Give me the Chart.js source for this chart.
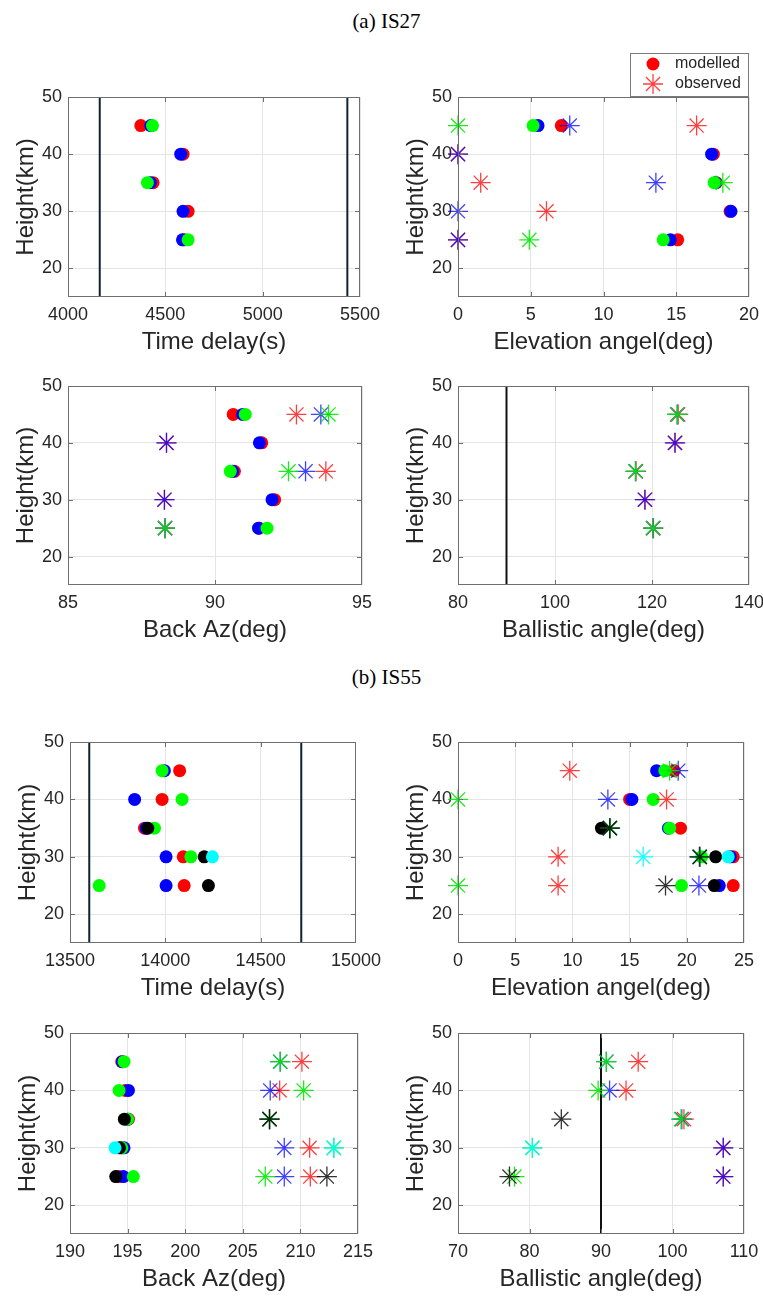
<!DOCTYPE html>
<html><head><meta charset="utf-8">
<script src="https://cdn.jsdelivr.net/npm/chart.js@4.4.1/dist/chart.umd.min.js"></script>
<style>
html,body{margin:0;padding:0;background:#fff;overflow:hidden;width:763px;height:1297px;position:relative;}
canvas{position:absolute;}
.ttl{position:absolute;width:763px;text-align:center;font-family:"Liberation Serif","Times New Roman",serif;font-size:21px;color:#000;line-height:24px;}
</style></head><body>
<div class="ttl" style="left:5px;top:9px">(a) IS27</div>
<div class="ttl" style="left:5px;top:665px">(b) IS55</div>
<script>
// ---------- shared ----------
const heights = [45, 40, 35, 30, 25];
const heightTicks = [20, 30, 40, 50];
const heightRange = [15, 50];

const is27Series = ['red', 'blue', 'green'];
const is55Series = ['red', 'blue', 'green', 'black', 'cyan'];

// ---------- tick labels ----------
const is27TimeTicks = [4000, 4500, 5000, 5500];
const is27ElevTicks = [0, 5, 10, 15, 20];
const is27BazTicks = [85, 90, 95];
const is27BallTicks = [80, 100, 120, 140];
const is55TimeTicks = [13500, 14000, 14500, 15000];
const is55ElevTicks = [0, 5, 10, 15, 20, 25];
const is55BazTicks = [190, 195, 200, 205, 210, 215];
const is55BallTicks = [70, 80, 90, 100, 110];

// ---------- reference lines ----------
const is27TimeLines = [4163, 5435];
const is55TimeLines = [13601, 14713];
const ballisticLine = [90];

// ---------- IS27 (rows: red, blue, green; columns: heights) ----------
const is27TimeModelled = [
  [4374, 4591, 4437, 4617, 4598],
  [4425, 4579, 4423, 4591, 4588],
  [4434, null, 4408, null, 4617]
];
const is27ElevModelled = [
  [7.1, 17.55, 17.75, 18.7, 15.1],
  [5.5, 17.43, 17.7, 18.76, 14.6],
  [5.16, null, 17.6, null, 14.1]
];
const is27ElevObserved = [
  [16.4, 0, 1.56, 6.08, 0],
  [7.68, 0, 13.6, 0, 0],
  [0, null, 18.2, null, 4.9]
];
const is27BazModelled = [
  [90.62, 91.59, 90.66, 92.03, 91.5],
  [90.94, 91.51, 90.6, 91.94, 91.48],
  [91.03, null, 90.52, null, 91.77]
];
const is27BazObserved = [
  [92.77, 88.35, 93.77, 88.28, 88.3],
  [93.6, 88.35, 93.08, 88.28, 88.3],
  [93.86, null, 92.5, null, 88.3]
];
const is27BallObserved = [
  [125.4, 124.8, 116.7, 118.6, 120.3],
  [125.2, 124.7, 116.6, 118.5, 120.2],
  [125.2, null, 116.6, null, 120.2]
];

// ---------- IS55 (rows: red, blue, green, black, cyan) ----------
const is55TimeModelled = [
  [14075, 13983, 13891, 14094, 14099],
  [13995, 13839, 13900, 14004, 14004],
  [13983, 14088, 13943, 14134, 13653],
  [null, null, 13908, 14204, 14226],
  [null, null, null, 14247, null]
];
const is55ElevModelled = [
  [18.9, 15.0, 19.45, 24.06, 24.06],
  [17.36, 15.2, 18.4, 23.8, 22.84],
  [18.08, 17.06, 18.5, 21.3, 19.54],
  [null, null, 12.54, 22.52, 22.4],
  [null, null, null, 23.62, null]
];
const is55ElevObserved = [
  [9.77, 18.23, 13.27, 8.75, 8.75],
  [19.25, 13.1, 13.27, 21.1, 21.06],
  [18.5, 0, 13.3, 21.14, 0],
  [null, null, 13.27, 21.14, 18.14],
  [null, null, null, 16.19, null]
];
const is55BazModelled = [
  [194.49, 194.8, 195.07, 194.45, 194.2],
  [194.55, 195.07, 195.0, 194.69, 194.63],
  [194.69, 194.26, 195.0, 194.5, 195.5],
  [null, null, 194.72, 194.3, 193.97],
  [null, null, null, 193.91, null]
];
const is55BazObserved = [
  [210.13, 208.2, 207.32, 210.8, 210.86],
  [208.25, 207.38, 207.32, 208.6, 208.6],
  [208.25, 210.28, 207.32, 212.9, 206.95],
  [null, null, 207.32, null, 212.3],
  [null, null, null, 212.9, null]
];
const is55BallObserved = [
  [95.2, 93.5, 101.6, 107.1, 107.1],
  [90.75, 91.2, 101.3, 107.1, 107.1],
  [90.75, 89.6, 101.2, 80.4, 77.9],
  [null, null, 84.45, null, 77.2],
  [null, null, null, 80.4, null]
];

// ---------- styling ----------
const FONT = '"Liberation Sans", Arial, Helvetica, sans-serif';
const TEXT = '#262626';
const COLORS = {red: '#ff0000', blue: '#0000ff', green: '#00ff00', black: '#000000', cyan: '#00ffff'};
const STAR = {red: 'rgba(255,0,0,0.75)', blue: 'rgba(0,0,255,0.75)', green: 'rgba(0,235,0,0.9)', black: 'rgba(0,0,0,0.8)', cyan: 'rgba(0,255,255,0.9)'};

function seriesData(vals) {
  const out = [];
  vals.forEach((v, i) => { if (v !== null) out.push({x: v, y: heights[i]}); });
  return out;
}

const boxPlugin = {
  id: 'matlabBox',
  afterDatasetsDraw(chart) {
    const {ctx, chartArea: a, scales: {x, y}} = chart;
    ctx.save();
    ctx.strokeStyle = '#6e6e6e';
    ctx.lineWidth = 1;
    ctx.strokeRect(a.left + 0.5, a.top + 0.5, a.right - a.left - 1, a.bottom - a.top - 1);
    const L = 5;
    ctx.beginPath();
    x.ticks.forEach(tk => {
      const px = Math.round(x.getPixelForValue(tk.value)) + 0.5;
      if (px <= a.left + 2 || px >= a.right - 2) return;
      ctx.moveTo(px, a.bottom); ctx.lineTo(px, a.bottom - L);
      ctx.moveTo(px, a.top); ctx.lineTo(px, a.top + L);
    });
    y.ticks.forEach(tk => {
      const py = Math.round(y.getPixelForValue(tk.value)) + 0.5;
      if (py <= a.top + 2 || py >= a.bottom - 2) return;
      ctx.moveTo(a.left, py); ctx.lineTo(a.left + L, py);
      ctx.moveTo(a.right, py); ctx.lineTo(a.right - L, py);
    });
    ctx.stroke();
    ctx.restore();
  }
};

const legendPlugin = {
  id: 'matlabLegend',
  afterDraw(chart) {
    const {ctx, chartArea: a} = chart;
    ctx.save();
    const x0 = a.right - 119, y0 = a.top - 44;
    ctx.fillStyle = '#fff';
    ctx.fillRect(x0, y0, 118, 43);
    ctx.strokeStyle = '#7a7a7a';
    ctx.lineWidth = 1;
    ctx.strokeRect(x0 + 0.5, y0 + 0.5, 118, 43);
    // modelled marker
    ctx.fillStyle = COLORS.red;
    ctx.beginPath();
    ctx.arc(a.right - 96, a.top - 33, 6.5, 0, Math.PI * 2);
    ctx.fill();
    // observed marker
    const cx = a.right - 96, cy = a.top - 13, r = 10, d = r * Math.SQRT1_2;
    ctx.strokeStyle = STAR.red;
    ctx.lineWidth = 1.3;
    ctx.beginPath();
    ctx.moveTo(cx - r, cy); ctx.lineTo(cx + r, cy);
    ctx.moveTo(cx, cy - r); ctx.lineTo(cx, cy + r);
    ctx.moveTo(cx - d, cy - d); ctx.lineTo(cx + d, cy + d);
    ctx.moveTo(cx - d, cy + d); ctx.lineTo(cx + d, cy - d);
    ctx.stroke();
    ctx.fillStyle = TEXT;
    ctx.font = '16px ' + FONT;
    ctx.textBaseline = 'middle';
    ctx.textAlign = 'left';
    ctx.fillText('modelled', a.right - 74, a.top - 33);
    ctx.fillText('observed', a.right - 74, a.top - 13);
    ctx.restore();
  }
};

function makeChart(cfg) {
  const [l, t, r, b] = cfg.plot;
  const topPad = cfg.topPad || 20;
  const cl = l - 68, ct = t - topPad;
  const w = Math.round(r - cl + 30), h = Math.round(b - ct + 60);
  const cv = document.createElement('canvas');
  cv.width = w; cv.height = h;
  cv.style.left = cl + 'px'; cv.style.top = ct + 'px';
  cv.style.width = w + 'px'; cv.style.height = h + 'px';
  document.body.appendChild(cv);

  const datasets = [];
  let ord = 1000;
  (cfg.lines || []).forEach(v => datasets.push({
    data: [{x: v, y: heightRange[0]}, {x: v, y: heightRange[1]}],
    showLine: true, borderColor: cfg.lineColor, borderWidth: 2,
    pointRadius: 0, order: ord--
  }));
  (cfg.modelled || []).forEach((vals, i) => {
    const c = COLORS[cfg.series[i]];
    datasets.push({
      data: seriesData(vals), showLine: false, clip: false,
      pointStyle: 'circle', pointRadius: 6.5,
      pointBackgroundColor: c, backgroundColor: c,
      pointBorderWidth: 0, borderWidth: 0, order: ord--
    });
  });
  (cfg.observed || []).forEach((vals, i) => {
    const c = STAR[cfg.series[i]];
    datasets.push({
      data: seriesData(vals), showLine: false, clip: false,
      pointStyle: 'star', pointRadius: 10,
      pointBorderColor: c, borderColor: c, pointBackgroundColor: c,
      pointBorderWidth: 1.3, order: ord--
    });
  });

  const xt = cfg.xTicks;
  new Chart(cv, {
    type: 'scatter',
    data: {datasets},
    options: {
      responsive: false, animation: false, devicePixelRatio: 1, events: [],
      layout: {padding: {left: 0, top: topPad, right: 30, bottom: 0}},
      plugins: {legend: {display: false}, tooltip: {enabled: false}},
      scales: {
        x: {
          type: 'linear', min: xt[0], max: xt[xt.length - 1],
          afterBuildTicks: s => { s.ticks = xt.map(v => ({value: v})); },
          afterFit: s => { s.height = 60; },
          grid: {color: '#e4e4e4', drawTicks: false, lineWidth: 1},
          border: {display: false},
          ticks: {padding: 7, color: TEXT, font: {family: FONT, size: 18}, maxRotation: 0, autoSkip: false, callback: v => String(v)},
          title: {display: true, text: cfg.xTitle, color: TEXT, font: {family: FONT, size: 24}, padding: {top: 0, bottom: 0}}
        },
        y: {
          type: 'linear', min: heightRange[0], max: heightRange[1],
          afterBuildTicks: s => { s.ticks = heightTicks.map(v => ({value: v})); },
          afterFit: s => { s.width = 68; },
          grid: {color: '#e4e4e4', drawTicks: false, lineWidth: 1},
          border: {display: false},
          ticks: {padding: 6, color: TEXT, font: {family: FONT, size: 18}, autoSkip: false, callback: v => String(v)},
          title: {display: true, text: 'Height(km)', color: TEXT, font: {family: FONT, size: 24}, padding: {top: 11.6, bottom: 0}}
        }
      }
    },
    plugins: cfg.legend ? [boxPlugin, legendPlugin] : [boxPlugin]
  });
}

// ---------- IS27 ----------
makeChart({plot: [68, 97, 360, 297], xTicks: is27TimeTicks, xTitle: 'Time delay(s)', series: is27Series,
  modelled: is27TimeModelled, lines: is27TimeLines, lineColor: '#0e2233'});
makeChart({plot: [458, 97, 749, 297], topPad: 50, legend: true, xTicks: is27ElevTicks, xTitle: 'Elevation angel(deg)', series: is27Series,
  modelled: is27ElevModelled, observed: is27ElevObserved});
makeChart({plot: [68, 386, 362, 585], xTicks: is27BazTicks, xTitle: 'Back Az(deg)', series: is27Series,
  modelled: is27BazModelled, observed: is27BazObserved});
makeChart({plot: [458, 386, 749, 585], xTicks: is27BallTicks, xTitle: 'Ballistic angle(deg)', series: is27Series,
  observed: is27BallObserved, lines: ballisticLine, lineColor: '#111111'});

// ---------- IS55 ----------
makeChart({plot: [70, 742, 358, 943], xTicks: is55TimeTicks, xTitle: 'Time delay(s)', series: is55Series,
  modelled: is55TimeModelled, lines: is55TimeLines, lineColor: '#0e2233'});
makeChart({plot: [458, 742, 744, 943], xTicks: is55ElevTicks, xTitle: 'Elevation angel(deg)', series: is55Series,
  modelled: is55ElevModelled, observed: is55ElevObserved});
makeChart({plot: [70, 1033, 358, 1234], xTicks: is55BazTicks, xTitle: 'Back Az(deg)', series: is55Series,
  modelled: is55BazModelled, observed: is55BazObserved});
makeChart({plot: [458, 1033, 744, 1234], xTicks: is55BallTicks, xTitle: 'Ballistic angle(deg)', series: is55Series,
  observed: is55BallObserved, lines: ballisticLine, lineColor: '#111111'});
</script>
</body></html>
